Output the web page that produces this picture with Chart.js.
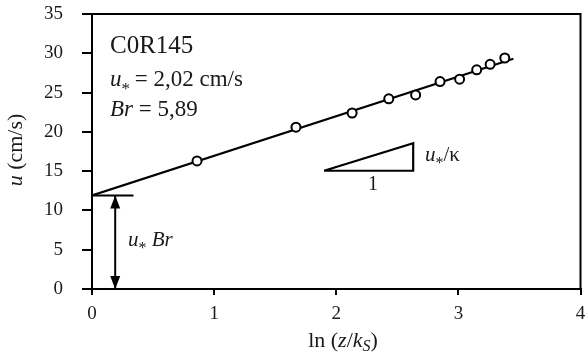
<!DOCTYPE html>
<html lang="en">
  <head>
    <meta charset="UTF-8" />
    <title>Chart</title>
    <script src="https://cdn.jsdelivr.net/npm/chart.js@4.4.0/dist/chart.umd.min.js"></script>
    <style>
      body { margin: 0; background: #fff; }
    </style>
  </head>
  <body>
    <canvas id="profile" width="587" height="356"></canvas>

    <script>
      // measured points
      const lnZ = [0.86, 1.67, 2.13, 2.43, 2.65, 2.85, 3.01, 3.15, 3.26, 3.38]
      const uMeas = [16.3, 20.6, 22.4, 24.2, 24.7, 26.4, 26.7, 27.9, 28.6, 29.4]

      // log-law fit
      const fitX = [0, 3.45]
      const fitU = [11.9, 29.3]

      // u* Br level and arrow
      const levelX = [0, 0.34]
      const levelU = [11.9, 11.9]
      const arrowX = [0.19, 0.19]
      const arrowU = [11.9, 0]

      // slope triangle
      const triX = [1.9, 2.63, 2.63, 1.9]
      const triU = [15.05, 15.05, 18.55, 15.05]

      const xTicks = [0, 1, 2, 3, 4]
      const yTicks = [0, 5, 10, 15, 20, 25, 30, 35]

      const SERIF = '"Liberation Serif", "Times New Roman", serif'
      const INK = '#1a1a1a'

      const toXY = (xs, ys) => xs.map((x, i) => ({ x, y: ys[i] }))

      function runs(ctx, x, y, parts, align) {
        let w = 0
        parts.forEach((p) => {
          ctx.font = p.f
          w += ctx.measureText(p.t).width
        })
        let cx = align === 'center' ? x - w / 2 : x
        parts.forEach((p) => {
          ctx.font = p.f
          ctx.fillText(p.t, cx, y + (p.dy || 0))
          cx += ctx.measureText(p.t).width + (p.gap || 0)
        })
      }

      const it = (s) => 'italic ' + s + 'px ' + SERIF
      const rm = (s) => s + 'px ' + SERIF

      const decor = {
        id: 'decor',
        afterDatasetsDraw(chart) {
          const { ctx, chartArea: a, scales } = chart
          const xs = scales.x
          const ys = scales.y
          ctx.save()

          // frame
          ctx.strokeStyle = '#000'
          ctx.lineWidth = 2
          ctx.strokeRect(a.left, a.top, a.right - a.left, a.bottom - a.top)

          // arrow heads
          const ax = xs.getPixelForValue(arrowX[0])
          const yTop = ys.getPixelForValue(arrowU[0])
          const yBot = ys.getPixelForValue(arrowU[1])
          ctx.fillStyle = '#000'
          ctx.beginPath()
          ctx.moveTo(ax, yTop)
          ctx.lineTo(ax - 5, yTop + 13)
          ctx.lineTo(ax + 5, yTop + 13)
          ctx.closePath()
          ctx.fill()
          ctx.beginPath()
          ctx.moveTo(ax, yBot)
          ctx.lineTo(ax - 5, yBot - 13)
          ctx.lineTo(ax + 5, yBot - 13)
          ctx.closePath()
          ctx.fill()

          // texts
          ctx.fillStyle = INK
          ctx.textBaseline = 'alphabetic'
          runs(ctx, 110, 53, [{ t: 'C0R145', f: rm(25) }])
          runs(ctx, 110, 86, [
            { t: 'u', f: it(23) },
            { t: '*', f: rm(17), dy: 8, gap: -1 },
            { t: ' = 2,02 cm/s', f: rm(23) },
          ])
          runs(ctx, 110, 116, [
            { t: 'Br', f: it(23) },
            { t: ' = 5,89', f: rm(23) },
          ])
          runs(ctx, 425, 161, [
            { t: 'u', f: it(21) },
            { t: '*', f: rm(16), dy: 7 },
            { t: '/κ', f: rm(21) },
          ])
          runs(ctx, 373, 190, [{ t: '1', f: rm(20) }], 'center')
          runs(ctx, 128, 246, [
            { t: 'u', f: it(21) },
            { t: '*', f: rm(16), dy: 7 },
            { t: ' Br', f: it(21) },
          ])

          // axis titles
          runs(
            ctx,
            343,
            347,
            [
              { t: 'ln (', f: rm(22) },
              { t: 'z', f: it(22) },
              { t: '/', f: rm(22) },
              { t: 'k', f: it(22) },
              { t: 'S', f: it(16), dy: 4 },
              { t: ')', f: rm(22) },
            ],
            'center'
          )
          ctx.translate(22, 150)
          ctx.rotate(-Math.PI / 2)
          runs(
            ctx,
            0,
            0,
            [
              { t: 'u', f: it(22) },
              { t: ' (cm/s)', f: rm(22) },
            ],
            'center'
          )
          ctx.restore()
        },
      }

      const blk = '#000'

      new Chart(document.getElementById('profile').getContext('2d'), {
        type: 'scatter',
        data: {
          datasets: [
            {
              label: 'measured',
              data: toXY(lnZ, uMeas),
              pointRadius: 4.5,
              pointBorderWidth: 2,
              pointBorderColor: blk,
              pointBackgroundColor: '#fff',
              showLine: false,
            },
            {
              label: 'fit',
              data: toXY(fitX, fitU),
              showLine: true,
              borderColor: blk,
              borderWidth: 2.2,
              pointRadius: 0,
            },
            {
              label: 'level',
              data: toXY(levelX, levelU),
              showLine: true,
              borderColor: blk,
              borderWidth: 2,
              pointRadius: 0,
            },
            {
              label: 'arrow',
              data: toXY(arrowX, arrowU),
              showLine: true,
              borderColor: blk,
              borderWidth: 2,
              pointRadius: 0,
            },
            {
              label: 'slope',
              data: toXY(triX, triU),
              showLine: true,
              borderColor: blk,
              borderWidth: 2.2,
              pointRadius: 0,
              tension: 0,
            },
          ],
        },
        options: {
          responsive: false,
          animation: false,
          layout: { padding: { top: 14, right: 5, left: 0, bottom: 0 } },
          plugins: {
            legend: { display: false },
            tooltip: { enabled: false },
          },
          scales: {
            x: {
              type: 'linear',
              min: 0,
              max: 4,
              afterBuildTicks: (s) => {
                s.ticks = xTicks.map((v) => ({ value: v }))
              },
              afterFit: (s) => {
                s.height = 67
                s.paddingLeft = 0
                s.paddingRight = 0
              },
              ticks: {
                color: INK,
                font: { family: SERIF, size: 19 },
                padding: 8,
                maxRotation: 0,
              },
              grid: {
                drawOnChartArea: false,
                tickLength: 6,
                color: blk,
                lineWidth: 2,
              },
              border: { color: blk, width: 2 },
            },
            y: {
              type: 'linear',
              min: 0,
              max: 35,
              afterBuildTicks: (s) => {
                s.ticks = yTicks.map((v) => ({ value: v }))
              },
              afterFit: (s) => {
                s.width = 92
                s.paddingTop = 0
                s.paddingBottom = 0
              },
              ticks: {
                color: INK,
                font: { family: SERIF, size: 19 },
                padding: 19,
              },
              grid: {
                drawOnChartArea: false,
                tickLength: 10,
                color: blk,
                lineWidth: 2,
              },
              border: { color: blk, width: 2 },
            },
          },
        },
        plugins: [decor],
      })
    </script>
  </body>
</html>
